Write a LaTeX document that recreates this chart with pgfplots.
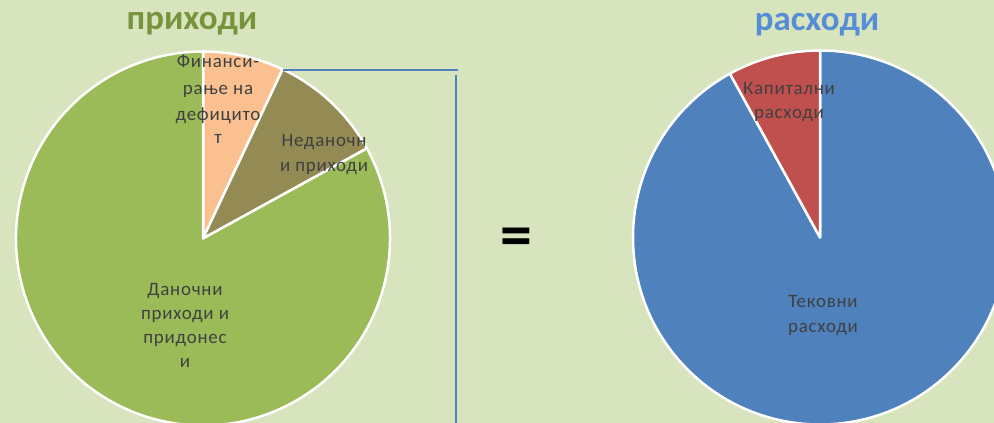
\documentclass[border=0pt]{standalone}
\usepackage{pgfplots}
\pgfplotsset{compat=1.18}
\usepackage{pgfplotstable}
\usepackage{fontspec}
\setmainfont{Carlito}
\newfontfamily\lab[LetterSpace=4]{Carlito}

\definecolor{bg}{HTML}{D7E4BD}
\definecolor{peach}{HTML}{FAC090}
\definecolor{olive}{HTML}{948A54}
\definecolor{leaf}{HTML}{9BBB59}
\definecolor{steel}{HTML}{4F81BD}
\definecolor{brick}{HTML}{C0504D}
\definecolor{tgreen}{HTML}{77933C}
\definecolor{tblue}{HTML}{558ED5}
\definecolor{txt}{HTML}{404040}

% \slice{cx}{cy}{start}{end}{colour}
\newcommand\slice[5]{%
  \fill[#5, draw=white, line width=2.5bp, line join=round]
    (axis cs:#1,#2) -- ++(#3:187bp) arc[start angle=#3, end angle=#4, radius=187bp] -- cycle;}
\newcommand\lbl[3]{\node[anchor=base, text=txt, font=\lab\fontsize{19}{22}\selectfont, inner sep=0pt] at (axis cs:#1,#2) {#3};}

\begin{document}
\begin{tikzpicture}
% shares in percent, slices run clockwise from the top
\pgfplotstableread{
share
7
10
83
}\prihodi
\pgfplotstableread{
share
92
8
}\rashodi
\pgfplotstablegetelem{0}{share}\of\prihodi \let\pA\pgfplotsretval
\pgfplotstablegetelem{1}{share}\of\prihodi \let\pB\pgfplotsretval
\pgfplotstablegetelem{2}{share}\of\prihodi \let\pC\pgfplotsretval
\pgfplotstablegetelem{0}{share}\of\rashodi \let\rA\pgfplotsretval
\pgfplotstablegetelem{1}{share}\of\rashodi \let\rB\pgfplotsretval
\pgfmathsetmacro\aA{90-3.6*\pA}
\pgfmathsetmacro\aB{\aA-3.6*\pB}
\pgfmathsetmacro\aC{\aB-3.6*\pC}
\pgfmathsetmacro\bA{90-3.6*\rA}
\pgfmathsetmacro\bB{\bA-3.6*\rB}

\clip (0,0) rectangle (994bp,423bp);
\begin{axis}[
    at={(0,0)}, anchor=south west,
    width=994bp, height=423bp, scale only axis,
    xmin=0, xmax=994, ymin=0, ymax=423,
    hide axis, clip=true,
  ]
\fill[bg] (axis cs:0,0) rectangle (axis cs:994,423);

% приходи
\slice{203}{184.5}{90}{\aA}{peach}
\slice{203}{184.5}{\aA}{\aB}{olive}
\slice{203}{184.5}{\aB}{\aC}{leaf}
% расходи
\slice{820}{185.5}{90}{\bA}{steel}
\slice{820}{185.5}{\bA}{\bB}{brick}

\draw[steel, line width=1.3bp] (axis cs:283,353) -- (axis cs:458,353);
\draw[steel, line width=1.3bp] (axis cs:456,348) -- (axis cs:456,0);

\node[anchor=base, text=tgreen, font=\bfseries\fontsize{35}{40}\selectfont, inner sep=0pt] at (axis cs:192,393) {приходи};
\node[anchor=base, text=tblue, font=\bfseries\fontsize{35}{40}\selectfont, inner sep=0pt] at (axis cs:817,392) {расходи};
\node[anchor=base, font=\bfseries\fontsize{64}{70}\selectfont, inner sep=0pt] at (axis cs:516.5,166) {=};

\lbl{218}{355}{Финанси-}
\lbl{218}{328}{рање на}
\lbl{218}{302}{дефицито}
\lbl{218}{279}{т}
\lbl{324}{276}{Неданочн}
\lbl{324}{251}{и приходи}
\lbl{185}{127}{Даночни}
\lbl{185}{103}{приходи и}
\lbl{185}{79}{придонес}
\lbl{185}{55}{и}
\lbl{789}{328}{Капитални}
\lbl{789}{304}{расходи}
\lbl{823}{115}{Тековни}
\lbl{823}{90}{расходи}
\end{axis}
\end{tikzpicture}
\end{document}
